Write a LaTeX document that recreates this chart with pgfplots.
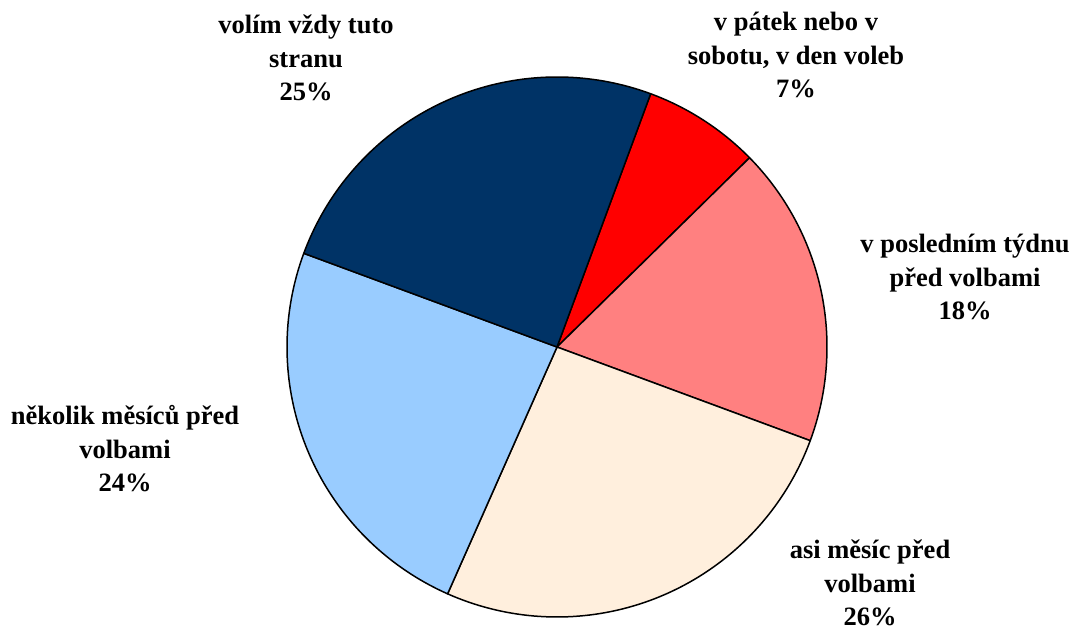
\documentclass[border=0pt]{standalone}
\usepackage{pgfplots}
\pgfplotsset{compat=1.18}
\usepackage{fontspec}
\setmainfont{Liberation Serif}
\definecolor{cnavy}{HTML}{003366}
\definecolor{cred}{HTML}{FF0000}
\definecolor{csalmon}{HTML}{FF8080}
\definecolor{ccream}{HTML}{FFEFDD}
\definecolor{cblue}{HTML}{99CCFF}
% data (percent), clockwise from the top
\def\vA{7}  % v pátek nebo v sobotu, v den voleb
\def\vB{18} % v posledním týdnu před volbami
\def\vC{26} % asi měsíc před volbami
\def\vD{24} % několik měsíců před volbami
\def\vE{25} % volím vždy tuto stranu
\def\start{69.7}
\pgfmathsetmacro\aA{\start}
\pgfmathsetmacro\aB{\aA-3.6*\vA}
\pgfmathsetmacro\aC{\aB-3.6*\vB}
\pgfmathsetmacro\aD{\aC-3.6*\vC}
\pgfmathsetmacro\aE{\aD-3.6*\vD}
\pgfmathsetmacro\aF{\aE-3.6*\vE}
\tikzset{lab/.style={font=\fontsize{26.5}{33.5}\selectfont\bfseries,align=center,inner sep=0pt}}
\begin{document}
\begin{tikzpicture}
\begin{axis}[width=1085pt,height=629pt,xmin=0,xmax=1085,ymin=0,ymax=629,
  scale only axis,hide axis,clip=false]
\pgfplotsset{slice/.style={draw=black,line width=1.5pt,line join=round,samples=80,variable=\t}}
\addplot[slice,fill=cred,domain=\aB:\aA] ({557+270*cos(t)},{282+270*sin(t)}) -- (axis cs:557,282) -- cycle;
\addplot[slice,fill=csalmon,domain=\aC:\aB] ({557+270*cos(t)},{282+270*sin(t)}) -- (axis cs:557,282) -- cycle;
\addplot[slice,fill=ccream,domain=\aD:\aC] ({557+270*cos(t)},{282+270*sin(t)}) -- (axis cs:557,282) -- cycle;
\addplot[slice,fill=cblue,domain=\aE:\aD] ({557+270*cos(t)},{282+270*sin(t)}) -- (axis cs:557,282) -- cycle;
\addplot[slice,fill=cnavy,domain=\aF:\aE] ({557+270*cos(t)},{282+270*sin(t)}) -- (axis cs:557,282) -- cycle;
\node[lab] at (axis cs:306,571) {volím vždy tuto\\stranu\\25\%};
\node[lab] at (axis cs:796,574) {v pátek nebo v\\sobotu, v den voleb\\7\%};
\node[lab] at (axis cs:965,352) {v posledním týdnu\\před volbami\\18\%};
\node[lab] at (axis cs:870,46) {asi měsíc před\\volbami\\26\%};
\node[lab] at (axis cs:125,180) {několik měsíců před\\volbami\\24\%};
\coordinate (bl) at (axis cs:0,0);
\coordinate (tr) at (axis cs:1085,629);
\end{axis}
\pgfresetboundingbox
\useasboundingbox (bl) rectangle (tr);
\end{tikzpicture}
\end{document}
